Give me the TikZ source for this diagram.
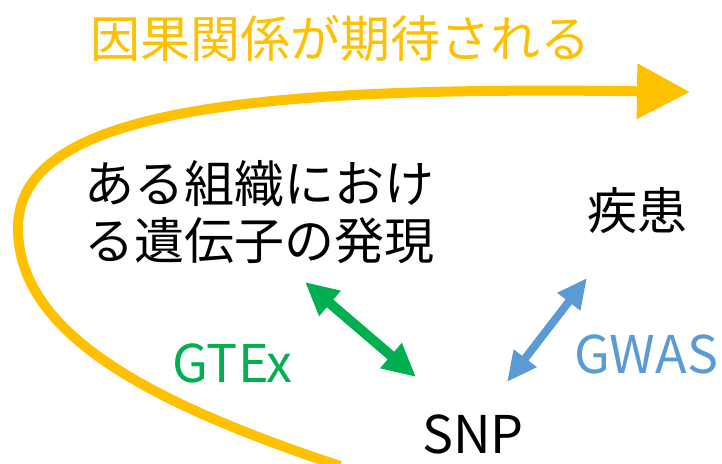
\documentclass[tikz,border=0pt]{standalone}
\usepackage{fontspec}
\newfontfamily\jp{Noto Sans CJK JP}
\usetikzlibrary{arrows.meta}
\definecolor{gold}{HTML}{FFC000}
\definecolor{gtexgreen}{HTML}{00B050}
\definecolor{gwasblue}{HTML}{5B9BD5}
\begin{document}
\begin{tikzpicture}[x=1bp,y=-1bp,
  lbl/.style={inner sep=0pt, anchor=base west, font=\jp\fontsize{50bp}{58bp}\selectfont},
  latin/.style={inner sep=0pt, anchor=base west, font=\jp\fontsize{52bp}{60bp}\selectfont},
  gtexarrow/.style={draw=gtexgreen, line width=10bp,
    {Triangle[length=33bp,width=31bp]}-{Triangle[length=33bp,width=31bp]}},
  gwasarrow/.style={draw=gwasblue, line width=8bp,
    {Triangle[length=30bp,width=27bp]}-{Triangle[length=30bp,width=27bp]}},
  bigcurve/.style={draw=gold, line width=10bp, -{Triangle[length=53bp,width=53bp]}}]
\useasboundingbox (0,0) rectangle (722,464);
% texts
\node[lbl, text=gold] (title) at (90,58) {因果関係が期待される};
\node[lbl] (expr1) at (84,203) {ある組織におけ};
\node[lbl] (expr2) at (84,260) {る遺伝子の発現};
\node[lbl] (dis) at (587,230) {疾患};
\node[latin] (snp) at (422,453) {SNP};
\node[latin, text=gtexgreen] (gtex) at (172,382) {GTEx};
\node[latin, text=gwasblue] (gwas) at (574,373) {GWAS};
% arrow ends
\coordinate (g1) at (305,282);
\coordinate (g2) at (416,377);
\coordinate (w1) at (587,278);
\coordinate (w2) at (507,382);
\coordinate (cs) at (340,466);
\coordinate (cl) at (18,228);
\coordinate (ce) at (690,92);
\draw[gtexarrow] (g1) -- (g2);
\draw[gwasarrow] (w1) -- (w2);
\draw[bigcurve] (cs) .. controls (140,400) and (18,330) .. (cl)
  .. controls (18,110) and (250,86) .. (ce);
\end{tikzpicture}
\end{document}
